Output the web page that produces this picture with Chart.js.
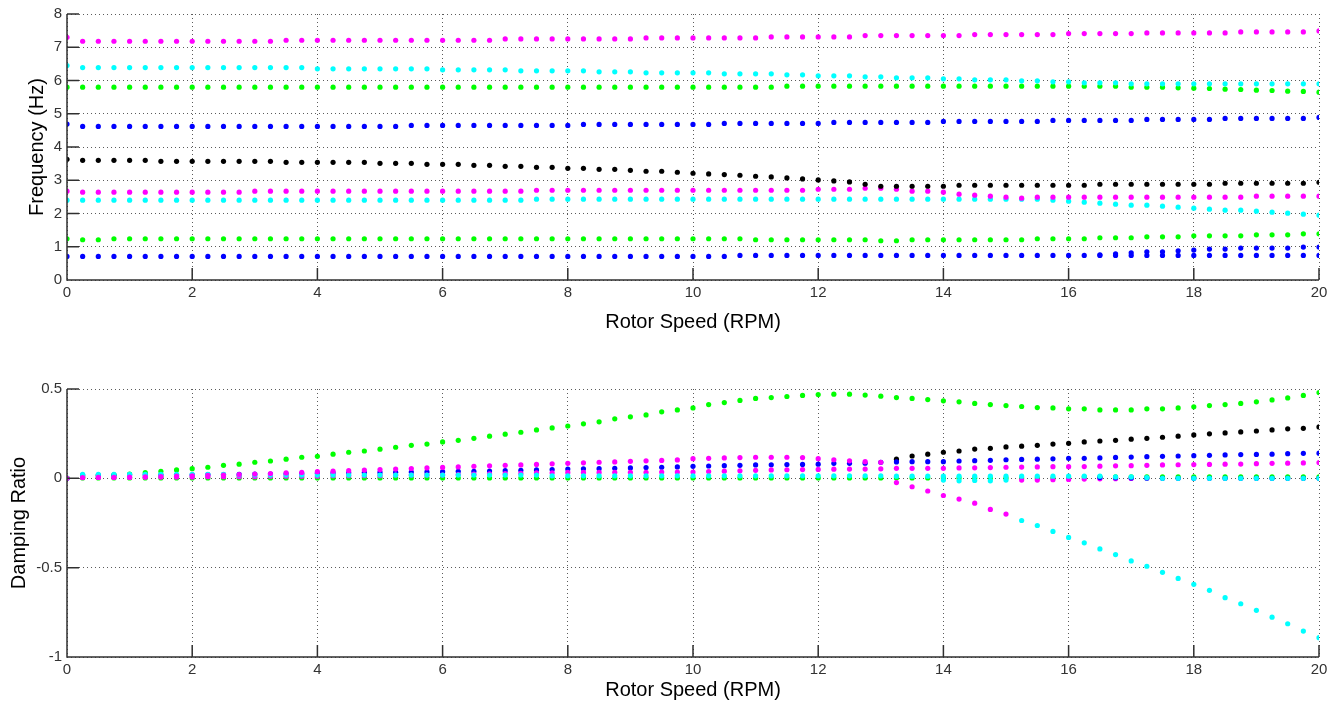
<!DOCTYPE html>
<html>
<head>
<meta charset="utf-8">
<script src="https://cdn.jsdelivr.net/npm/chart.js@4.4.1/dist/chart.umd.min.js"></script>
<style>
  html, body { margin: 0; padding: 0; background: #ffffff; }
  body { width: 1338px; height: 704px; position: relative; overflow: hidden; }
  .box { position: absolute; left: 0; width: 1338px; }
  canvas { display: block; }
</style>
</head>
<body>
<div class="box" style="top:0px;height:345px;"><canvas id="freq" width="1338" height="345"></canvas></div>
<div class="box" style="top:345px;height:359px;"><canvas id="damp" width="1338" height="359"></canvas></div>
<script>
// ---------------- DATA ----------------
const rotorSpeed = [
  0,0.25,0.5,0.75,1,1.25,1.5,1.75,2,2.25,
  2.5,2.75,3,3.25,3.5,3.75,4,4.25,4.5,4.75,
  5,5.25,5.5,5.75,6,6.25,6.5,6.75,7,7.25,
  7.5,7.75,8,8.25,8.5,8.75,9,9.25,9.5,9.75,
  10,10.25,10.5,10.75,11,11.25,11.5,11.75,12,12.25,
  12.5,12.75,13,13.25,13.5,13.75,14,14.25,14.5,14.75,
  15,15.25,15.5,15.75,16,16.25,16.5,16.75,17,17.25,
  17.5,17.75,18,18.25,18.5,18.75,19,19.25,19.5,19.75,
  20
];
const speedTicks = [0,2,4,6,8,10,12,14,16,18,20];
const freqTicks = [0,1,2,3,4,5,6,7,8];
const dampTicks = [-1,-0.5,0,0.5];

// Frequency (Hz)
const freqMagentaHigh = [
  7.30,7.18,7.18,7.18,7.18,7.18,7.18,7.18,7.18,7.18,
  7.18,7.18,7.18,7.18,7.21,7.21,7.21,7.21,7.21,7.21,
  7.21,7.21,7.21,7.21,7.21,7.21,7.21,7.21,7.25,7.25,
  7.25,7.25,7.25,7.25,7.25,7.25,7.25,7.28,7.28,7.28,
  7.28,7.28,7.28,7.28,7.28,7.31,7.31,7.31,7.31,7.31,
  7.31,7.35,7.35,7.35,7.35,7.35,7.35,7.35,7.38,7.38,
  7.38,7.38,7.38,7.38,7.41,7.41,7.41,7.41,7.41,7.43,
  7.43,7.43,7.43,7.43,7.43,7.46,7.46,7.46,7.46,7.46,
  7.49
];
const freqCyanHigh = [
  6.45,6.39,6.39,6.39,6.39,6.39,6.39,6.39,6.39,6.39,
  6.39,6.39,6.39,6.39,6.39,6.39,6.35,6.35,6.35,6.35,
  6.35,6.35,6.35,6.35,6.32,6.32,6.32,6.32,6.32,6.29,
  6.29,6.29,6.29,6.29,6.26,6.26,6.26,6.23,6.23,6.23,
  6.23,6.23,6.20,6.20,6.20,6.20,6.17,6.17,6.14,6.14,
  6.14,6.11,6.11,6.08,6.08,6.08,6.05,6.05,6.02,6.02,
  6.02,5.99,5.99,5.96,5.96,5.93,5.93,5.93,5.90,5.90,
  5.90,5.90,5.90,5.90,5.90,5.90,5.90,5.90,5.90,5.90,
  5.90
];
const freqGreenHigh = [
  5.80,5.80,5.80,5.80,5.80,5.80,5.80,5.80,5.80,5.80,
  5.80,5.80,5.80,5.80,5.80,5.80,5.80,5.80,5.80,5.80,
  5.80,5.80,5.80,5.80,5.80,5.80,5.80,5.80,5.80,5.80,
  5.80,5.80,5.80,5.80,5.80,5.80,5.80,5.80,5.80,5.80,
  5.80,5.80,5.80,5.80,5.80,5.80,5.83,5.83,5.83,5.83,
  5.83,5.83,5.83,5.83,5.83,5.83,5.83,5.83,5.83,5.83,
  5.83,5.83,5.83,5.83,5.83,5.83,5.83,5.83,5.80,5.80,
  5.80,5.78,5.77,5.76,5.74,5.73,5.71,5.70,5.68,5.67,
  5.65
];
const freqBlueHigh = [
  4.69,4.62,4.62,4.62,4.62,4.62,4.62,4.62,4.62,4.62,
  4.62,4.62,4.62,4.62,4.62,4.62,4.62,4.62,4.62,4.62,
  4.62,4.62,4.65,4.65,4.65,4.65,4.65,4.65,4.65,4.65,
  4.65,4.65,4.65,4.68,4.68,4.68,4.68,4.68,4.68,4.68,
  4.68,4.68,4.71,4.71,4.71,4.71,4.71,4.71,4.71,4.74,
  4.74,4.74,4.74,4.74,4.74,4.74,4.77,4.77,4.77,4.77,
  4.77,4.77,4.77,4.80,4.80,4.80,4.80,4.80,4.80,4.83,
  4.83,4.83,4.83,4.83,4.86,4.86,4.86,4.86,4.86,4.86,
  4.89
];
const freqBlack = [
  3.63,3.60,3.60,3.60,3.60,3.60,3.57,3.57,3.57,3.57,
  3.57,3.57,3.57,3.57,3.54,3.54,3.54,3.54,3.54,3.54,
  3.51,3.51,3.51,3.48,3.48,3.48,3.45,3.45,3.42,3.42,
  3.39,3.39,3.36,3.36,3.33,3.33,3.30,3.27,3.27,3.24,
  3.21,3.19,3.17,3.15,3.12,3.10,3.07,3.04,3.01,2.98,
  2.95,2.88,2.82,2.82,2.82,2.82,2.82,2.85,2.85,2.85,
  2.85,2.85,2.85,2.85,2.85,2.85,2.88,2.88,2.88,2.88,
  2.88,2.88,2.88,2.88,2.91,2.91,2.91,2.91,2.91,2.91,
  2.94
];
const freqMagentaLow = [
  2.67,2.64,2.64,2.64,2.64,2.64,2.64,2.64,2.64,2.64,
  2.64,2.64,2.67,2.67,2.67,2.67,2.67,2.67,2.67,2.67,
  2.67,2.67,2.67,2.67,2.67,2.67,2.67,2.67,2.67,2.67,
  2.70,2.70,2.70,2.70,2.70,2.70,2.70,2.70,2.70,2.70,
  2.70,2.70,2.70,2.70,2.70,2.70,2.70,2.70,2.73,2.73,
  2.73,2.76,2.76,2.73,2.67,2.67,2.64,2.58,2.55,2.52,
  2.49,2.46,2.49,2.49,2.49,2.49,2.49,2.49,2.49,2.49,
  2.49,2.49,2.49,2.49,2.49,2.49,2.52,2.52,2.52,2.52,
  2.52
];
const freqCyanLow = [
  2.40,2.40,2.40,2.40,2.40,2.40,2.40,2.40,2.40,2.40,
  2.40,2.40,2.40,2.40,2.40,2.40,2.40,2.40,2.40,2.40,
  2.40,2.40,2.40,2.40,2.40,2.40,2.40,2.40,2.40,2.40,
  2.43,2.43,2.43,2.43,2.43,2.43,2.43,2.43,2.43,2.43,
  2.43,2.43,2.43,2.43,2.43,2.43,2.43,2.43,2.43,2.43,
  2.43,2.43,2.43,2.43,2.43,2.43,2.43,2.43,2.43,2.43,
  2.43,2.43,2.43,2.40,2.37,2.34,2.31,2.28,2.25,2.25,
  2.22,2.19,2.16,2.13,2.10,2.10,2.07,2.04,2.01,1.98,
  1.95
];
const freqGreenLow = [
  1.24,1.21,1.21,1.24,1.24,1.24,1.24,1.24,1.24,1.24,
  1.24,1.24,1.24,1.24,1.24,1.24,1.24,1.24,1.24,1.24,
  1.24,1.24,1.24,1.24,1.24,1.24,1.24,1.24,1.24,1.24,
  1.24,1.24,1.24,1.24,1.24,1.24,1.24,1.24,1.24,1.24,
  1.24,1.24,1.24,1.24,1.21,1.21,1.21,1.21,1.21,1.21,
  1.21,1.21,1.18,1.18,1.21,1.21,1.21,1.21,1.21,1.21,
  1.21,1.21,1.24,1.24,1.24,1.24,1.27,1.27,1.27,1.30,
  1.30,1.30,1.33,1.33,1.33,1.33,1.36,1.36,1.36,1.39,
  1.39
];
const freqBlueLow = [
  0.71,0.71,0.71,0.71,0.71,0.71,0.71,0.71,0.71,0.71,
  0.71,0.71,0.71,0.71,0.71,0.71,0.71,0.71,0.71,0.71,
  0.71,0.71,0.71,0.71,0.71,0.71,0.71,0.71,0.71,0.71,
  0.71,0.71,0.71,0.71,0.71,0.71,0.71,0.71,0.71,0.71,
  0.71,0.71,0.71,0.74,0.74,0.74,0.74,0.74,0.74,0.74,
  0.74,0.74,0.74,0.74,0.74,0.74,0.74,0.74,0.74,0.74,
  0.74,0.74,0.74,0.74,0.74,0.74,0.74,0.74,0.74,0.74,
  0.74,0.74,0.74,0.74,0.74,0.74,0.74,0.74,0.74,0.74,
  0.74
];
const freqBlueSplit = [
  null,null,null,null,null,null,null,null,null,null,
  null,null,null,null,null,null,null,null,null,null,
  null,null,null,null,null,null,null,null,null,null,
  null,null,null,null,null,null,null,null,null,null,
  null,null,null,null,null,null,null,null,null,null,
  null,null,null,null,null,null,null,null,null,null,
  null,null,null,null,null,null,0.76,0.79,0.82,0.85,
  0.85,0.88,0.90,0.93,0.93,0.96,0.96,0.96,0.96,0.99,
  0.99
];

// Damping ratio
const dampGreenHigh = [
  0.000,0.012,0.015,0.019,0.024,0.032,0.039,0.047,0.054,0.062,
  0.073,0.079,0.090,0.097,0.107,0.118,0.123,0.135,0.146,0.153,
  0.163,0.174,0.185,0.192,0.204,0.213,0.224,0.236,0.247,0.258,
  0.271,0.282,0.293,0.305,0.316,0.333,0.344,0.355,0.372,0.383,
  0.394,0.413,0.424,0.436,0.447,0.452,0.458,0.464,0.469,0.471,
  0.471,0.466,0.460,0.452,0.447,0.441,0.434,0.428,0.419,0.413,
  0.407,0.402,0.396,0.394,0.389,0.389,0.383,0.383,0.383,0.389,
  0.389,0.394,0.400,0.407,0.413,0.419,0.428,0.439,0.450,0.464,
  0.480
];
const dampBlack = [
  null,null,null,null,null,null,null,null,null,null,
  null,null,null,null,null,null,null,null,null,null,
  null,null,null,null,null,null,null,null,null,null,
  null,null,null,null,null,null,null,null,null,null,
  null,null,null,null,null,null,null,null,null,null,
  null,null,null,0.107,0.125,0.135,0.146,0.153,0.164,0.168,
  0.176,0.180,0.185,0.192,0.196,0.204,0.209,0.213,0.219,0.224,
  0.230,0.236,0.243,0.249,0.254,0.260,0.265,0.271,0.277,0.280,
  0.288
];
const dampBlueHigh = [
  0.000,0.018,0.018,0.018,0.018,0.020,0.020,0.020,0.020,0.021,
  0.021,0.022,0.023,0.024,0.025,0.026,0.029,0.030,0.031,0.032,
  0.033,0.034,0.035,0.036,0.037,0.039,0.039,0.041,0.043,0.045,
  0.047,0.049,0.052,0.053,0.054,0.056,0.058,0.060,0.062,0.064,
  0.067,0.069,0.071,0.073,0.075,0.076,0.077,0.078,0.079,0.084,
  0.084,0.085,0.090,0.092,0.093,0.093,0.093,0.097,0.099,0.101,
  0.104,0.106,0.107,0.109,0.112,0.112,0.114,0.117,0.119,0.121,
  0.123,0.125,0.127,0.129,0.131,0.133,0.134,0.135,0.138,0.140,
  0.141
];
const dampMagentaHigh = [
  0.000,0.004,0.005,0.006,0.007,0.008,0.010,0.012,0.014,0.016,
  0.018,0.021,0.024,0.027,0.030,0.033,0.037,0.040,0.043,0.046,
  0.049,0.052,0.055,0.058,0.061,0.064,0.067,0.070,0.073,0.075,
  0.078,0.081,0.084,0.087,0.090,0.092,0.095,0.098,0.100,0.103,
  0.110,0.112,0.114,0.116,0.118,0.118,0.118,0.116,0.110,0.104,
  0.098,0.093,0.090,-0.024,-0.047,-0.071,-0.096,-0.116,-0.139,-0.174,
  -0.200,null,null,null,null,null,null,null,null,null,
  null,null,null,null,null,null,null,null,null,null,
  null
];
const dampCyanNeg = [
  null,null,null,null,null,null,null,null,null,null,
  null,null,null,null,null,null,null,null,null,null,
  null,null,null,null,null,null,null,null,null,null,
  null,null,null,null,null,null,null,null,null,null,
  null,null,null,null,null,null,null,null,null,null,
  null,null,null,null,null,null,null,null,null,null,
  null,-0.236,-0.264,-0.297,-0.331,-0.361,-0.395,-0.427,-0.462,-0.492,
  -0.526,-0.560,-0.593,-0.627,-0.668,-0.702,-0.739,-0.777,-0.814,-0.855,
  -0.892
];
const dampMagentaLow = [
  0.000,0.005,0.005,0.005,0.005,0.007,0.007,0.007,0.007,0.009,
  0.009,0.009,0.009,0.012,0.012,0.012,0.012,0.015,0.015,0.015,
  0.015,0.018,0.018,0.018,0.018,0.021,0.023,0.025,0.026,0.028,
  0.030,0.031,0.033,0.033,0.033,0.034,0.034,0.034,0.035,0.035,
  0.035,0.038,0.040,0.042,0.045,0.047,0.048,0.049,0.050,0.051,
  0.052,0.052,0.053,0.056,0.056,0.056,0.056,0.058,0.059,0.060,
  0.062,0.063,0.064,0.065,0.065,0.066,0.068,0.070,0.071,0.073,
  0.075,0.076,0.077,0.078,0.079,0.080,0.082,0.084,0.085,0.086,
  0.088
];
const dampCyanLow = [
  0.000,0.022,0.022,0.022,0.022,0.022,0.022,0.022,0.022,0.022,
  0.022,0.018,0.018,0.018,0.018,0.018,0.018,0.018,0.018,0.018,
  0.018,0.018,0.018,0.018,0.018,0.018,0.018,0.018,0.018,0.018,
  0.018,0.014,0.014,0.014,0.014,0.014,0.014,0.014,0.014,0.014,
  0.014,0.014,0.014,0.014,0.014,0.014,0.014,0.014,0.014,0.014,
  0.014,0.014,0.014,0.012,0.012,0.012,0.012,0.012,0.012,0.012,
  0.012,0.012,0.012,0.012,0.012,0.012,0.012,0.008,0.008,0.004,
  0.000,0.000,0.000,0.000,0.000,0.000,0.000,0.000,0.000,0.000,
  0.000
];
const dampCyanDip = [
  null,null,null,null,null,null,null,null,null,null,
  null,null,null,null,null,null,null,null,null,null,
  null,null,null,null,null,null,null,null,null,null,
  null,null,null,null,null,null,null,null,null,null,
  null,null,null,null,null,null,null,null,null,null,
  null,null,null,null,null,null,-0.010,-0.014,-0.012,-0.014,
  -0.010,null,null,null,null,null,null,null,null,null,
  null,null,null,null,null,null,null,null,null,null,
  null
];
const dampMagentaZero = [
  null,null,null,null,null,null,null,null,null,null,
  null,null,null,null,null,null,null,null,null,null,
  null,null,null,null,null,null,null,null,null,null,
  null,null,null,null,null,null,null,null,null,null,
  null,null,null,null,null,null,null,null,null,null,
  null,null,null,null,null,null,null,null,null,null,
  null,-0.010,-0.010,-0.008,-0.006,-0.004,-0.003,-0.002,-0.001,null,
  null,null,null,null,null,null,null,null,null,null,
  null
];
const dampGreenLow = [
  0.002,0.002,0.002,0.002,0.002,0.002,0.002,0.002,0.002,0.002,
  0.002,0.002,0.002,0.002,0.002,0.002,0.002,0.002,0.002,0.002,
  0.002,0.002,0.002,0.002,0.002,0.002,0.002,0.002,0.002,0.002,
  0.002,0.002,0.002,0.002,0.002,0.002,0.002,0.002,0.002,0.002,
  0.002,0.002,0.002,0.002,0.002,0.002,0.002,0.002,0.002,0.002,
  0.002,0.002,0.002,0.002,0.002,0.002,0.002,0.002,0.002,0.002,
  0.002,0.002,0.002,0.002,0.002,0.008,0.008,0.008,0.008,0.008,
  0.008,0.008,0.008,0.008,0.008,0.008,0.008,0.008,0.008,0.008,
  0.008
];
const dampBlueLow = [
  null,null,null,null,null,null,null,null,null,null,
  null,null,null,null,null,null,null,null,null,null,
  null,null,null,null,null,null,null,null,null,null,
  null,null,null,null,null,null,null,null,null,null,
  null,null,null,null,null,null,null,null,null,null,
  null,null,null,null,null,null,null,null,null,null,
  null,null,null,null,null,null,0.004,0.003,0.002,0.001,
  0.000,0.000,0.000,0.000,0.000,0.000,0.000,0.000,0.000,0.000,
  0.000
];

// ---------------- STYLE ----------------
const MAGENTA = '#ff00ff', CYAN = '#00ffff', GREEN = '#00ff00', BLUE = '#0000ff', BLACK = '#000000';
const FONT = "'Liberation Sans', Arial, Helvetica, sans-serif";

function pts(arr) {
  return rotorSpeed.map((x, i) => ({ x: x, y: arr[i] }));
}
function ds(label, arr, color) {
  return {
    label: label, data: pts(arr), showLine: false,
    pointStyle: 'circle', pointRadius: 2.6, pointHoverRadius: 2.6,
    pointBorderWidth: 0, backgroundColor: color, borderColor: color
  };
}

// inward ticks + solid left/bottom axes (MATLAB style)
const matlabAxes = {
  id: 'matlabAxes',
  afterDraw(chart) {
    const ctx = chart.ctx, a = chart.chartArea;
    const xs = chart.scales.x, ys = chart.scales.y;
    ctx.save();
    ctx.strokeStyle = '#303030';
    ctx.lineWidth = 1.5;
    ctx.beginPath();
    ctx.moveTo(a.left, a.top); ctx.lineTo(a.left, a.bottom); ctx.lineTo(a.right, a.bottom);
    xs.ticks.forEach(t => { const p = xs.getPixelForValue(t.value); ctx.moveTo(p, a.bottom); ctx.lineTo(p, a.bottom - 12); });
    ys.ticks.forEach(t => { const p = ys.getPixelForValue(t.value); ctx.moveTo(a.left, p); ctx.lineTo(a.left + 12, p); });
    ctx.stroke();
    ctx.restore();
  }
};

function makeOptions(yMin, yMax, yTickVals, yTitle, yTitlePad, xH, xTitlePad, padTop) {
  return {
    responsive: false, animation: false, devicePixelRatio: 1,
    layout: { padding: { top: padTop, right: 19, bottom: 0, left: 0 } },
    plugins: { legend: { display: false }, tooltip: { enabled: false } },
    scales: {
      x: {
        type: 'linear', min: 0, max: 20,
        afterBuildTicks: s => { s.ticks = speedTicks.map(v => ({ value: v })); },
        afterFit: s => { s.height = xH; },
        grid: { color: 'rgba(50,50,50,0.8)', lineWidth: 1, drawTicks: false },
        border: { display: false, dash: [1, 3] },
        ticks: { color: '#333333', font: { family: FONT, size: 15 }, padding: 4, maxRotation: 0, callback: v => String(v) },
        title: { display: true, text: 'Rotor Speed (RPM)', color: '#000000', font: { family: FONT, size: 20 }, padding: { top: 0, bottom: xTitlePad } }
      },
      y: {
        type: 'linear', min: yMin, max: yMax,
        afterBuildTicks: s => { s.ticks = yTickVals.map(v => ({ value: v })); },
        afterFit: s => { s.width = 67; },
        grid: { color: 'rgba(50,50,50,0.8)', lineWidth: 1, drawTicks: false },
        border: { display: false, dash: [1, 3] },
        ticks: { color: '#333333', font: { family: FONT, size: 15 }, padding: 5, callback: v => String(v) },
        title: { display: true, text: yTitle, color: '#000000', font: { family: FONT, size: 20 }, padding: { top: yTitlePad, bottom: 0 } }
      }
    }
  };
}

new Chart(document.getElementById('freq'), {
  type: 'scatter',
  data: { datasets: [
    ds('Black', freqBlack, BLACK),
    ds('Magenta 2', freqMagentaLow, MAGENTA),
    ds('Cyan 2', freqCyanLow, CYAN),
    ds('Magenta 1', freqMagentaHigh, MAGENTA),
    ds('Cyan 1', freqCyanHigh, CYAN),
    ds('Green 1', freqGreenHigh, GREEN),
    ds('Blue 1', freqBlueHigh, BLUE),
    ds('Green 2', freqGreenLow, GREEN),
    ds('Blue 2', freqBlueLow, BLUE),
    ds('Blue 3', freqBlueSplit, BLUE)
  ] },
  options: makeOptions(0, 8, freqTicks, 'Frequency (Hz)', 25, 65, 11, 14),
  plugins: [matlabAxes]
});

new Chart(document.getElementById('damp'), {
  type: 'scatter',
  data: { datasets: [
    ds('Cyan neg', dampCyanNeg, CYAN),
    ds('Magenta hi', dampMagentaHigh, MAGENTA),
    ds('Cyan low', dampCyanLow, CYAN),
    ds('Cyan dip', dampCyanDip, CYAN),
    ds('Blue low', dampBlueLow, BLUE),
    ds('Magenta zero', dampMagentaZero, MAGENTA),
    ds('Magenta low', dampMagentaLow, MAGENTA),
    ds('Blue hi', dampBlueHigh, BLUE),
    ds('Black', dampBlack, BLACK),
    ds('Green hi', dampGreenHigh, GREEN),
    ds('Green low', dampGreenLow, GREEN)
  ] },
  options: makeOptions(-1, 0.5, dampTicks, 'Damping Ratio', 7, 47, 2, 44),
  plugins: [matlabAxes]
});
</script>
</body>
</html>
